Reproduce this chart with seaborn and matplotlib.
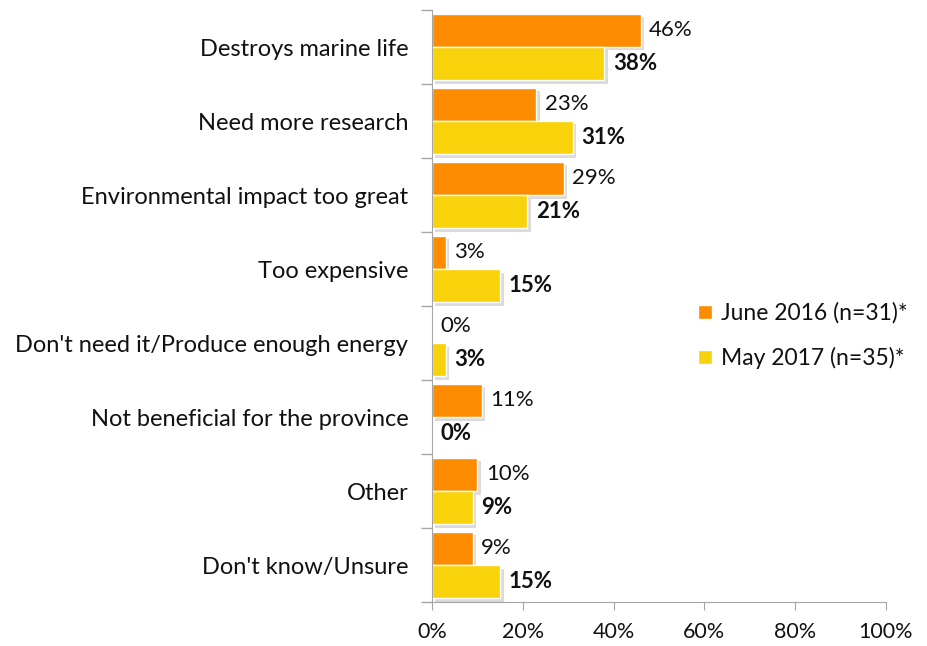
import pandas as pd
import matplotlib
matplotlib.use("Agg")
import matplotlib.pyplot as plt
import matplotlib.patheffects as pe
from matplotlib.ticker import FixedLocator, PercentFormatter
import seaborn as sns

# data
categorias = [
    "Destroys marine life",
    "Need more research",
    "Environmental impact too great",
    "Too expensive",
    "Don't need it/Produce enough energy",
    "Not beneficial for the province",
    "Other",
    "Don't know/Unsure",
]
junio_2016 = [46, 23, 29, 3, 0, 11, 10, 9]
mayo_2017 = [38, 31, 21, 15, 3, 0, 9, 15]
series = ["June 2016 (n=31)*", "May 2017 (n=35)*"]
colores = ["#FD8C00", "#F8D20B"]

df = pd.DataFrame({
    "categoria": categorias * 2,
    "valor": junio_2016 + mayo_2017,
    "serie": [series[0]] * len(categorias) + [series[1]] * len(categorias),
})

sns.set_style("white")
plt.rcParams["font.family"] = ["Lato", "DejaVu Sans"]
plt.rcParams["text.color"] = "#111111"
plt.rcParams["xtick.labelcolor"] = "#111111"
plt.rcParams["ytick.labelcolor"] = "#111111"

fig = plt.figure(figsize=(9.28, 6.46), dpi=100)
ax = fig.add_axes([0.4655, 0.068, 0.4892, 0.9165])

sns.barplot(data=df, y="categoria", x="valor", hue="serie", orient="h",
            palette=colores, width=0.9, ax=ax, saturation=1)

sombra = [pe.SimplePatchShadow(offset=(2.5, -2.5), shadow_rgbFace="#888888", alpha=0.3), pe.Normal()]
for p in ax.patches:
    p.set_path_effects(sombra)

# etiquetas de valor: primera serie normal, segunda en negrita
for i, cont in enumerate(ax.containers):
    vals = junio_2016 if i == 0 else mayo_2017
    ax.bar_label(cont, labels=[f"{v}%" for v in vals], padding=6,
                 fontsize=16, color="#111111",
                 fontweight="normal" if i == 0 else "bold")

ax.set_xlim(0, 100)
ax.set_ylim(len(categorias) - 0.5, -0.5)
ax.set_xticks(range(0, 101, 20))
ax.xaxis.set_major_formatter(PercentFormatter(decimals=0))
ax.set_xlabel("")
ax.set_ylabel("")

ax.yaxis.set_minor_locator(FixedLocator([k - 0.5 for k in range(len(categorias) + 1)]))
ax.tick_params(axis="y", which="major", length=0, labelsize=17, pad=17)
ax.tick_params(axis="y", which="minor", length=8, color="#A6A6A6", width=1, left=True)
ax.tick_params(axis="x", which="major", length=6, color="#A6A6A6", labelsize=15.5, pad=8, bottom=True)

for lado in ["top", "right"]:
    ax.spines[lado].set_visible(False)
for lado in ["left", "bottom"]:
    ax.spines[lado].set_color("#A6A6A6")

leg = ax.legend(loc="center left", bbox_to_anchor=(0.54, 0.45), frameon=False,
                fontsize=16.5, handlelength=0.6, handleheight=0.6,
                labelspacing=1.0, handletextpad=0.4)
for h in leg.legend_handles:
    h.set_path_effects([])

fig.savefig("out.png", dpi=100)
